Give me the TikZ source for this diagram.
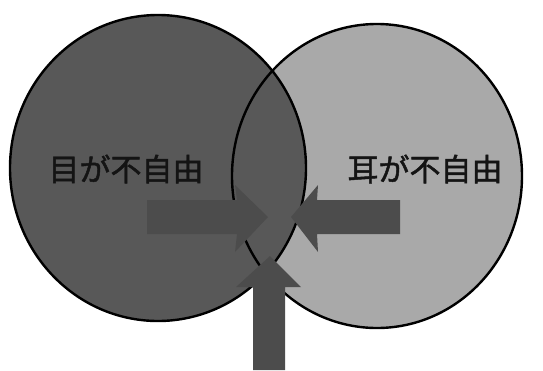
\documentclass[tikz,border=0pt]{standalone}
\usepackage{fontspec}
\newfontfamily\cjk[FakeBold=1.5]{Noto Sans CJK JP}
\definecolor{dark}{HTML}{585858}
\definecolor{light}{HTML}{A9A9A9}
\definecolor{arr}{HTML}{4C4C4C}
\tikzset{
  ring/.style={draw=black, line width=2.4pt},
  arrowshape/.style={fill=arr, draw=none},
  lbl/.style={font=\cjk\fontsize{31}{31}\selectfont, text=black!92, inner sep=0pt}
}
\begin{document}
\begin{tikzpicture}[x=1pt,y=-1pt]
\useasboundingbox (0,0) rectangle (543,370);
\fill[white] (0,0) rectangle (543,370);
% circles
\fill[dark] (158,168) ellipse [x radius=148, y radius=153];
\fill[light] (377,176) ellipse [x radius=145, y radius=152];
\begin{scope}
  \clip (158,168) ellipse [x radius=148, y radius=153];
  \fill[dark] (377,176) ellipse [x radius=145, y radius=152];
\end{scope}
\draw[ring] (158,168) ellipse [x radius=148, y radius=153];
\draw[ring] (377,176) ellipse [x radius=145, y radius=152];
% labels
\node[lbl] (eye) at (126,169) {目が不自由};
\node[lbl] (ear) at (425,169) {耳が不自由};
% arrows
\fill[arrowshape] (147,200) -- (237,200) -- (235,185) -- (268,217) -- (235,252) -- (237,234) -- (147,234) -- cycle;
\fill[arrowshape] (400,200) -- (317,200) -- (318,185) -- (291,217) -- (318,252) -- (317,234) -- (400,234) -- cycle;
\fill[arrowshape] (253,370) -- (253,287) -- (236,287) -- (270,256) -- (301,287) -- (285,287) -- (285,370) -- cycle;
\end{tikzpicture}
\end{document}
